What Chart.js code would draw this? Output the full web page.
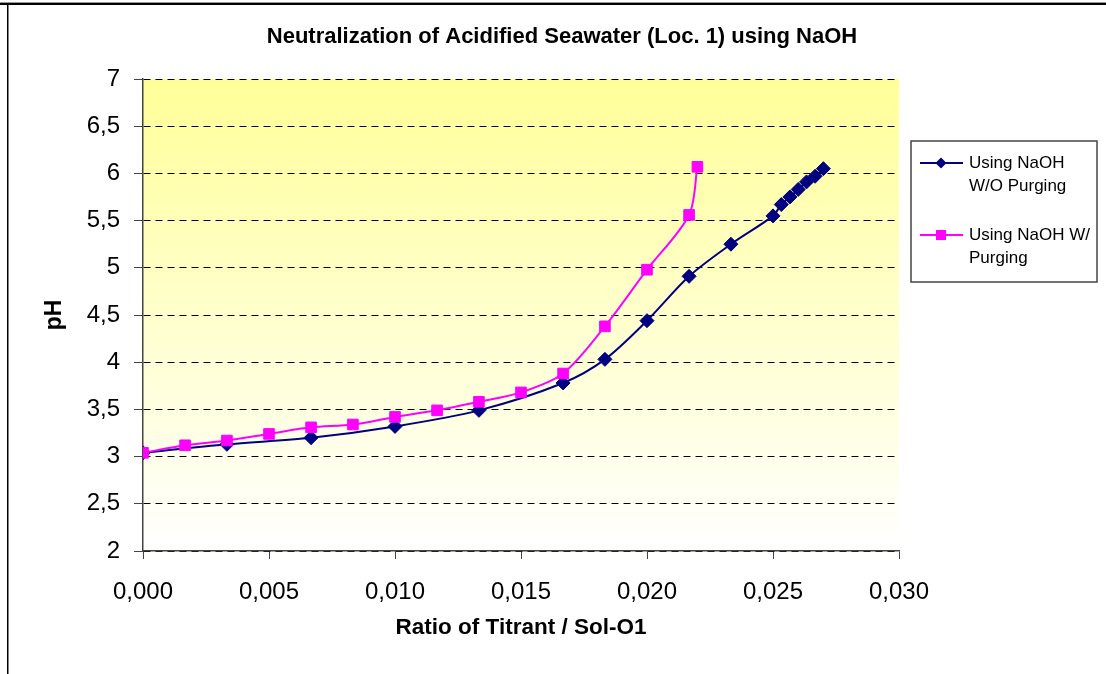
<!DOCTYPE html>
<html>
<head>
<meta charset="utf-8">
<title>Neutralization of Acidified Seawater</title>
<script src="https://cdn.jsdelivr.net/npm/chart.js@4.4.1/dist/chart.umd.min.js"></script>
<style>
  html, body { margin: 0; padding: 0; background: #fff; }
  #chart { display: block; }
</style>
</head>
<body>
<canvas id="chart" width="1106" height="674"></canvas>
<script>
// data
var ratioNoPurge = [0, 0.00333, 0.00667, 0.01, 0.01333, 0.01667, 0.01833, 0.02, 0.02167, 0.02333, 0.025, 0.02533, 0.02567, 0.026, 0.02633, 0.02667, 0.027];
var phNoPurge = [3.04, 3.13, 3.2, 3.32, 3.49, 3.78, 4.03, 4.44, 4.91, 5.25, 5.55, 5.67, 5.75, 5.83, 5.91, 5.97, 6.05];

var ratioPurge = [0, 0.00167, 0.00333, 0.005, 0.00667, 0.00833, 0.01, 0.01167, 0.01333, 0.015, 0.01667, 0.01833, 0.02, 0.02167, 0.022];
var phPurge = [3.04, 3.12, 3.17, 3.24, 3.31, 3.34, 3.42, 3.49, 3.58, 3.68, 3.88, 4.38, 4.98, 5.56, 6.07];

var seriesNames = ['Using NaOH W/O Purging', 'Using NaOH W/ Purging'];
var legendLines = [['Using NaOH', 'W/O Purging'], ['Using NaOH W/', 'Purging']];
var chartTitle = 'Neutralization of Acidified Seawater (Loc. 1) using NaOH';
var xTitle = 'Ratio of Titrant / Sol-O1';
var yTitle = 'pH';

function toPoints(xs, ys) {
  var pts = [];
  for (var i = 0; i < xs.length; i++) {
    pts.push({ x: xs[i], y: ys[i] });
  }
  return pts;
}

var FONT = '"Liberation Sans", Arial, sans-serif';

// yellow fade behind the plot, plus frame, title and legend
var decor = {
  id: 'decor',
  beforeDraw: function (chart) {
    var ctx = chart.ctx, a = chart.chartArea;
    var g = ctx.createLinearGradient(0, a.top, 0, a.bottom);
    g.addColorStop(0, '#FFFF99');
    g.addColorStop(1, '#FFFFFF');
    ctx.save();
    ctx.fillStyle = g;
    ctx.fillRect(a.left, a.top, a.right - a.left, a.bottom - a.top);
    ctx.restore();
  },
  afterDraw: function (chart) {
    var ctx = chart.ctx;
    ctx.save();
    // outer frame (top and left only are visible)
    ctx.fillStyle = '#999';
    ctx.fillRect(0, 2, 1106, 1);
    ctx.fillStyle = '#000';
    ctx.fillRect(0, 3, 1106, 2);
    ctx.fillRect(7, 3, 1.5, 671);

    // title
    ctx.fillStyle = '#000';
    ctx.font = 'bold 22px ' + FONT;
    ctx.textAlign = 'center';
    ctx.textBaseline = 'middle';
    ctx.fillText(chartTitle, 562, 37);

    // legend box
    ctx.fillStyle = '#fff';
    ctx.fillRect(911, 141, 186, 141);
    ctx.strokeStyle = '#444';
    ctx.lineWidth = 1.5;
    ctx.strokeRect(911, 141, 186, 141);

    var rows = [163, 235];
    ctx.font = '17px ' + FONT;
    ctx.textAlign = 'left';
    for (var i = 0; i < chart.data.datasets.length; i++) {
      var ds = chart.data.datasets[i];
      var y = rows[i];
      ctx.strokeStyle = ds.borderColor;
      ctx.lineWidth = 2;
      ctx.beginPath();
      ctx.moveTo(920, y);
      ctx.lineTo(963, y);
      ctx.stroke();
      ctx.fillStyle = ds.pointBackgroundColor;
      ctx.beginPath();
      if (ds.pointStyle === 'rectRot') {
        ctx.moveTo(941, y - 5.5);
        ctx.lineTo(946.5, y);
        ctx.lineTo(941, y + 5.5);
        ctx.lineTo(935.5, y);
        ctx.closePath();
      } else {
        ctx.rect(936, y - 5, 10, 10);
      }
      ctx.fill();
      ctx.fillStyle = '#000';
      var lines = legendLines[i];
      for (var j = 0; j < lines.length; j++) {
        ctx.fillText(lines[j], 969, y + j * 23);
      }
    }
    ctx.restore();
  }
};

var ctx = document.getElementById('chart');
var phChart = new Chart(ctx, {
  type: 'line',
  data: {
    datasets: [{
      label: seriesNames[0],
      data: toPoints(ratioNoPurge, phNoPurge),
      borderColor: '#000080',
      backgroundColor: '#000080',
      pointBackgroundColor: '#000080',
      pointBorderColor: '#000080',
      pointStyle: 'rectRot',
      pointRadius: 7,
      pointBorderWidth: 1,
      borderWidth: 2,
      tension: 0.3,
      fill: false,
      order: 1
    }, {
      label: seriesNames[1],
      data: toPoints(ratioPurge, phPurge),
      borderColor: '#FF00FF',
      backgroundColor: '#FF00FF',
      pointBackgroundColor: '#FF00FF',
      pointBorderColor: '#FF00FF',
      pointStyle: 'rect',
      pointRadius: 7.5,
      pointBorderWidth: 1,
      borderWidth: 2,
      tension: 0.3,
      fill: false,
      order: 0
    }]
  },
  options: {
    responsive: false,
    animation: false,
    layout: { padding: { left: 0, right: 207, top: 79, bottom: 0 } },
    plugins: {
      legend: { display: false },
      tooltip: { enabled: false },
      title: { display: false }
    },
    scales: {
      x: {
        type: 'linear',
        min: 0,
        max: 0.03,
        afterFit: function (scale) { scale.height = 123; },
        ticks: {
          stepSize: 0.005,
          color: '#000',
          padding: 19,
          maxRotation: 0,
          font: { family: FONT, size: 24 },
          callback: function (v) { return v.toFixed(3).replace('.', ','); }
        },
        grid: {
          drawOnChartArea: false,
          tickLength: 8,
          tickColor: '#444'
        },
        border: { color: '#444', width: 1.5 },
        title: {
          display: true,
          text: xTitle,
          color: '#000',
          font: { family: FONT, size: 22.5, weight: 'bold' },
          padding: { top: 0, bottom: 33 }
        }
      },
      y: {
        min: 2,
        max: 7,
        afterFit: function (scale) { scale.width = 143; },
        ticks: {
          stepSize: 0.5,
          color: '#000',
          padding: 14,
          font: { family: FONT, size: 24 },
          callback: function (v) { return String(v).replace('.', ','); }
        },
        grid: {
          color: '#000',
          lineWidth: 1,
          tickLength: 9,
          tickColor: '#444'
        },
        border: { color: '#444', width: 1.5, dash: [7, 5] },
        title: {
          display: true,
          text: yTitle,
          color: '#000',
          font: { family: FONT, size: 23, weight: 'bold' },
          padding: { top: 41, bottom: 0 }
        }
      }
    }
  },
  plugins: [decor]
});
</script>
</body>
</html>
